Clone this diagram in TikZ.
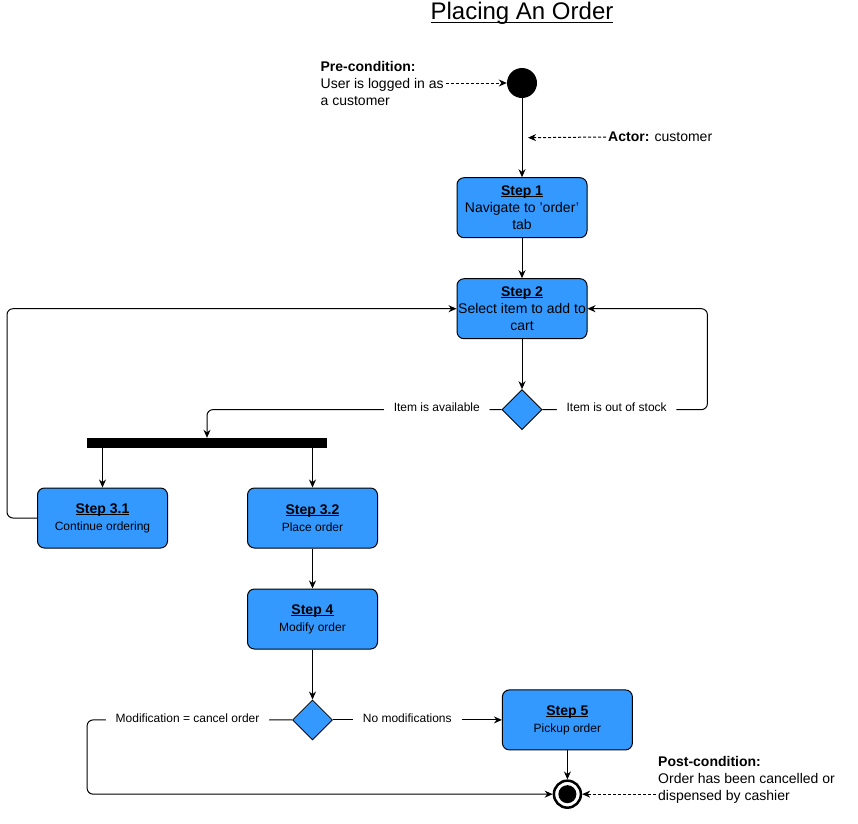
\documentclass[tikz,border=0pt]{standalone}
\usepackage{fontspec}
\setmainfont{Liberation Sans}
\usepackage{xcolor}
\usepackage{tikz}
\usetikzlibrary{positioning, arrows.meta, shapes.geometric, calc}
\definecolor{stepblue}{RGB}{51,153,255}
% tight underline, close to the baseline
\newcommand{\stepul}[2][1.6pt]{\setbox0\hbox{#2}\rlap{\rule[-#1]{\wd0}{0.9pt}}\box0}

\begin{document}
\begin{tikzpicture}[x=1pt, y=-1pt,
    stepbox/.style={rectangle, draw, line width=1pt, rounded corners=7pt, fill=stepblue, minimum width=130pt, minimum height=60pt, align=center, inner xsep=1pt, font=\fontsize{14}{17}\selectfont},
    decision/.style={diamond, draw, line width=0.8pt, fill=stepblue, minimum width=40pt, minimum height=40pt, inner sep=0pt},
    startnode/.style={circle, fill=black, minimum size=30pt, inner sep=0pt},
    lbl/.style={fill=white, font=\fontsize{12}{14}\selectfont, inner xsep=10pt, inner ysep=2pt, yshift=2pt},
    note/.style={align=left, font=\fontsize{14}{17}\selectfont, inner sep=2pt},
    arr/.style={-{Stealth[length=8pt, width=7pt]}, line width=1pt},
    dasharr/.style={arr, dashed, dash pattern=on 3pt off 2pt}
]
\useasboundingbox (0,0) rectangle (858,823);

\node[font=\fontsize{24}{28}\selectfont] (title) at (522,13) {\stepul[3.5pt]{Placing An Order}};

% start and pre-condition
\node[startnode] (start) at (522,83) {};
\node[note, left=61pt of start] (pre) {\textbf{Pre-condition:}\\User is logged in as\\a customer};

% steps
\node[stepbox, below=79pt of start] (step1) {\stepul{\textbf{Step 1}}\\Navigate to \char39order\char39\\tab};
\node[stepbox, below=40pt of step1] (step2) {\stepul{\textbf{Step 2}}\\Select item to add to\\cart};
\node[decision, below=50pt of step2] (dec1) {};
\node[rectangle, fill=black, minimum width=240pt, minimum height=10pt, inner sep=0pt] (bar) at (207,443) {};

\node[note, anchor=west] (actor) at (606,137) {\textbf{Actor:} customer};
\coordinate (actorpt) at ($(start.south)!0.5!(step1.north)+(6,0)$);

\node[stepbox] (s31) at (102.5,518) {\stepul{\textbf{Step 3.1}}\\{\fontsize{12}{15}\selectfont Continue ordering}};
\node[stepbox, right=79pt of s31] (s32) {\stepul{\textbf{Step 3.2}}\\{\fontsize{12}{15}\selectfont Place order}};
\node[stepbox, below=40pt of s32] (s4) {\stepul{\textbf{Step 4}}\\{\fontsize{12}{15}\selectfont Modify order}};
\node[decision, below=50pt of s4] (dec2) {};
\node[stepbox, right=169pt of dec2] (s5) {\stepul{\textbf{Step 5}}\\{\fontsize{12}{15}\selectfont Pickup order}};

% end state
\node[circle, draw, line width=2.5pt, fill=white, minimum size=27pt, inner sep=0pt, below=29pt of s5] (endc) {};
\node[circle, fill=black, minimum size=18pt, inner sep=0pt] (endin) at (endc) {};
\node[note, anchor=north west] (post) at (656,754) {\textbf{Post-condition:}\\Order has been cancelled or\\dispensed by cashier};

% connectors
\draw[dasharr] (pre.east) -- (start.west);
\draw[dasharr] (actor.west) -- (actorpt);
\draw[arr] (start) -- (step1);
\draw[arr] (step1) -- (step2);
\draw[arr] (step2) -- (dec1);
\draw[arr, rounded corners=6pt] (dec1.west) -| node[lbl, pos=0.11] {Item is available} (bar.north);
\draw[arr, rounded corners=6pt] (dec1.east) -- node[lbl, pos=0.45] {Item is out of stock} ++(165,0) |- (step2.east);
\draw[arr] (bar.south -| s31.north) -- (s31.north);
\draw[arr] (bar.south -| s32.north) -- (s32.north);
\draw[arr, rounded corners=6pt] (s31.west) -- ++(-30,0) |- (step2.west);
\draw[arr] (s32) -- (s4);
\draw[arr] (s4) -- (dec2);
\draw[arr, rounded corners=6pt] (dec2.west) -- node[lbl, pos=0.51] {Modification = cancel order} ++(-205,0) |- (endc.west);
\draw[arr] (dec2.east) -- node[lbl, pos=0.44] {No modifications} (s5.west);
\draw[arr] (s5) -- (endc);
\draw[dasharr] (post.west |- endc.east) -- (endc.east);
\end{tikzpicture}
\end{document}
